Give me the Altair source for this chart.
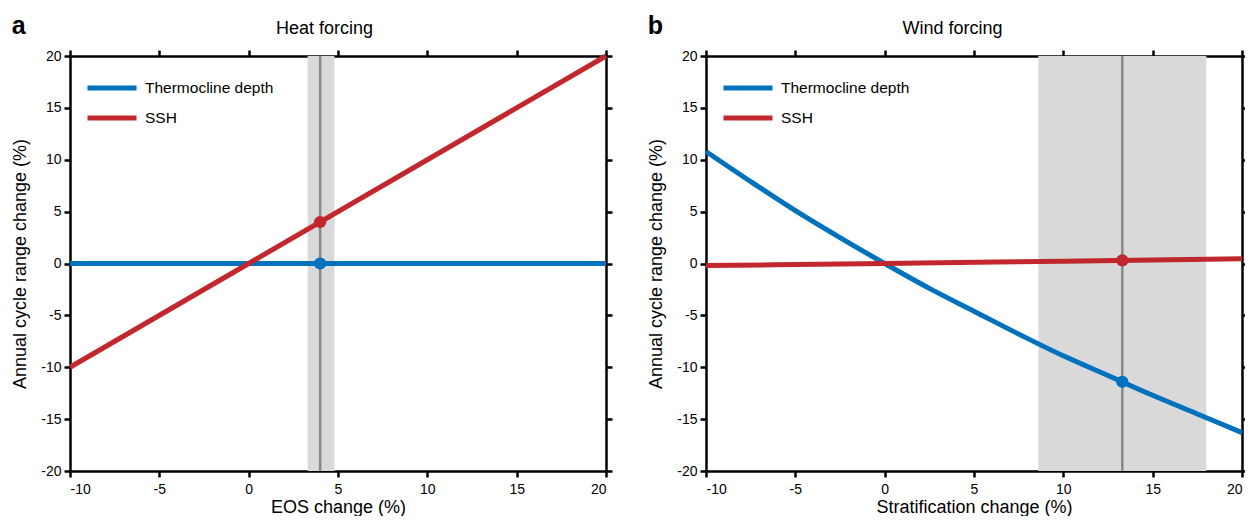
import altair as alt
import pandas as pd

SERIES = ["Thermocline depth", "SSH"]
COLORS = ["#0072BD", "#C1272D"]
FONT = "Liberation Sans, Arial, Helvetica, sans-serif"

X_TICKS = [-10, -5, 0, 5, 10, 15, 20]
Y_TICKS = [-20, -15, -10, -5, 0, 5, 10, 15, 20]

# Panel a: heat forcing (EOS change)
a_x = [-10, 20]
a_thermo = [0, 0]
a_ssh = [-10, 20]
a_band = [3.3, 4.8]
a_mark = 4.0
a_mark_thermo = 0.0
a_mark_ssh = 4.0

# Panel b: wind forcing (stratification change)
b_x_thermo = [-10, -7.5, -5, -2.5, 0, 2.5, 5, 7.5, 10, 12.5, 15, 17.5, 20]
b_thermo = [10.8, 7.9, 5.1, 2.5, 0, -2.4, -4.6, -6.8, -8.9, -10.8, -12.7, -14.5, -16.3]
b_x_ssh = [-10, 0, 10, 20]
b_ssh = [-0.2, 0, 0.22, 0.45]
b_band = [8.6, 18.0]
b_mark = 13.3
b_mark_thermo = -11.4
b_mark_ssh = 0.3

LABEL_EXPR = "toString(datum.value)"


def panel(xt, yt, xs_, ys_, band, mark, mt, ms, xtitle, toptitle, letter, title_x):
    lines = pd.concat([
        pd.DataFrame({"x": xt, "y": yt, "series": SERIES[0]}),
        pd.DataFrame({"x": xs_, "y": ys_, "series": SERIES[1]}),
    ])
    pts = pd.DataFrame({"x": [mark, mark], "y": [mt, ms], "series": SERIES})
    band_df = pd.DataFrame({"lo": [band[0]], "hi": [band[1]], "mid": [mark]})

    xsc = alt.Scale(domain=[-10, 20], nice=False, zero=False)
    ysc = alt.Scale(domain=[-20, 20], nice=False, zero=False)
    cscale = alt.Scale(domain=SERIES, range=COLORS)

    band_layer = alt.Chart(band_df).mark_rect(color="#D9D9D9").encode(
        x=alt.X("lo:Q", scale=xsc, axis=None), x2="hi:Q")
    vline = alt.Chart(band_df).mark_rule(color="#888888", strokeWidth=2.5).encode(
        x=alt.X("mid:Q", scale=xsc, axis=None))
    line_layer = alt.Chart(lines).mark_line(strokeWidth=5, strokeCap="butt",
                                            interpolate="monotone").encode(
        x=alt.X("x:Q", scale=xsc, axis=alt.Axis(title=xtitle, values=X_TICKS, orient="bottom",
                                                labelExpr=LABEL_EXPR, labelPadding=5,
                                                titlePadding=2)),
        y=alt.Y("y:Q", scale=ysc, axis=alt.Axis(title="Annual cycle range change (%)",
                                                   values=Y_TICKS, orient="left", titlePadding=11,
                                                   labelExpr=LABEL_EXPR)),
        color=alt.Color("series:N", scale=cscale, sort=SERIES,
                        legend=alt.Legend(title=None, orient="none", legendX=15, legendY=17,
                                          symbolType="stroke", symbolSize=2401,
                                          symbolStrokeWidth=5, labelFontSize=15.5,
                                          labelFont=FONT, labelOffset=6, padding=0,
                                          clipHeight=30, rowPadding=0, labelColor="black")),
    )
    pt_layer = alt.Chart(pts).mark_circle(size=150, opacity=1).encode(
        x=alt.X("x:Q", scale=xsc, axis=None),
        y=alt.Y("y:Q", scale=ysc, axis=None),
        color=alt.Color("series:N", scale=cscale, legend=None),
    )
    frame_layer = alt.Chart(pts).mark_point(opacity=0).encode(
        x=alt.X("x:Q", scale=xsc, axis=alt.Axis(orient="top", labels=False, values=X_TICKS,
                                                title=toptitle, titleX=title_x, titlePadding=11)),
        y=alt.Y("y:Q", scale=ysc, axis=alt.Axis(orient="right", labels=False, values=Y_TICKS,
                                                title=None)),
    )
    return alt.layer(band_layer, vline, line_layer, pt_layer, frame_layer).resolve_axis(
        x="independent", y="independent"
    ).properties(
        width=536, height=415,
        title=alt.TitleParams(letter, anchor="start", frame="bounds", fontSize=25,
                              fontWeight="bold", font=FONT, color="black", dy=23),
    )


pa = panel(a_x, a_thermo, a_x, a_ssh, a_band, a_mark, a_mark_thermo, a_mark_ssh,
           "EOS change (%)", "Heat forcing", "a", 254)
pb = panel(b_x_thermo, b_thermo, b_x_ssh, b_ssh, b_band, b_mark, b_mark_thermo, b_mark_ssh,
           "Stratification change (%)", "Wind forcing", "b", 246)

chart = alt.hconcat(pa, pb, spacing=31).resolve_scale(color="independent").configure(
    padding={"left": 3, "top": 5, "right": -7, "bottom": 0},
    background="white",
).configure_view(stroke=None).configure_axis(
    grid=False, domainColor="black", domainWidth=2.5, tickColor="black", tickWidth=2.5,
    tickSize=6, labelFont=FONT, labelFontSize=14, labelColor="black", labelPadding=3,
    titleFont=FONT, titleFontSize=18, titleFontWeight="normal", titleColor="black",
)

chart.save("out.html", embed_options={"renderer": "svg", "actions": False})
